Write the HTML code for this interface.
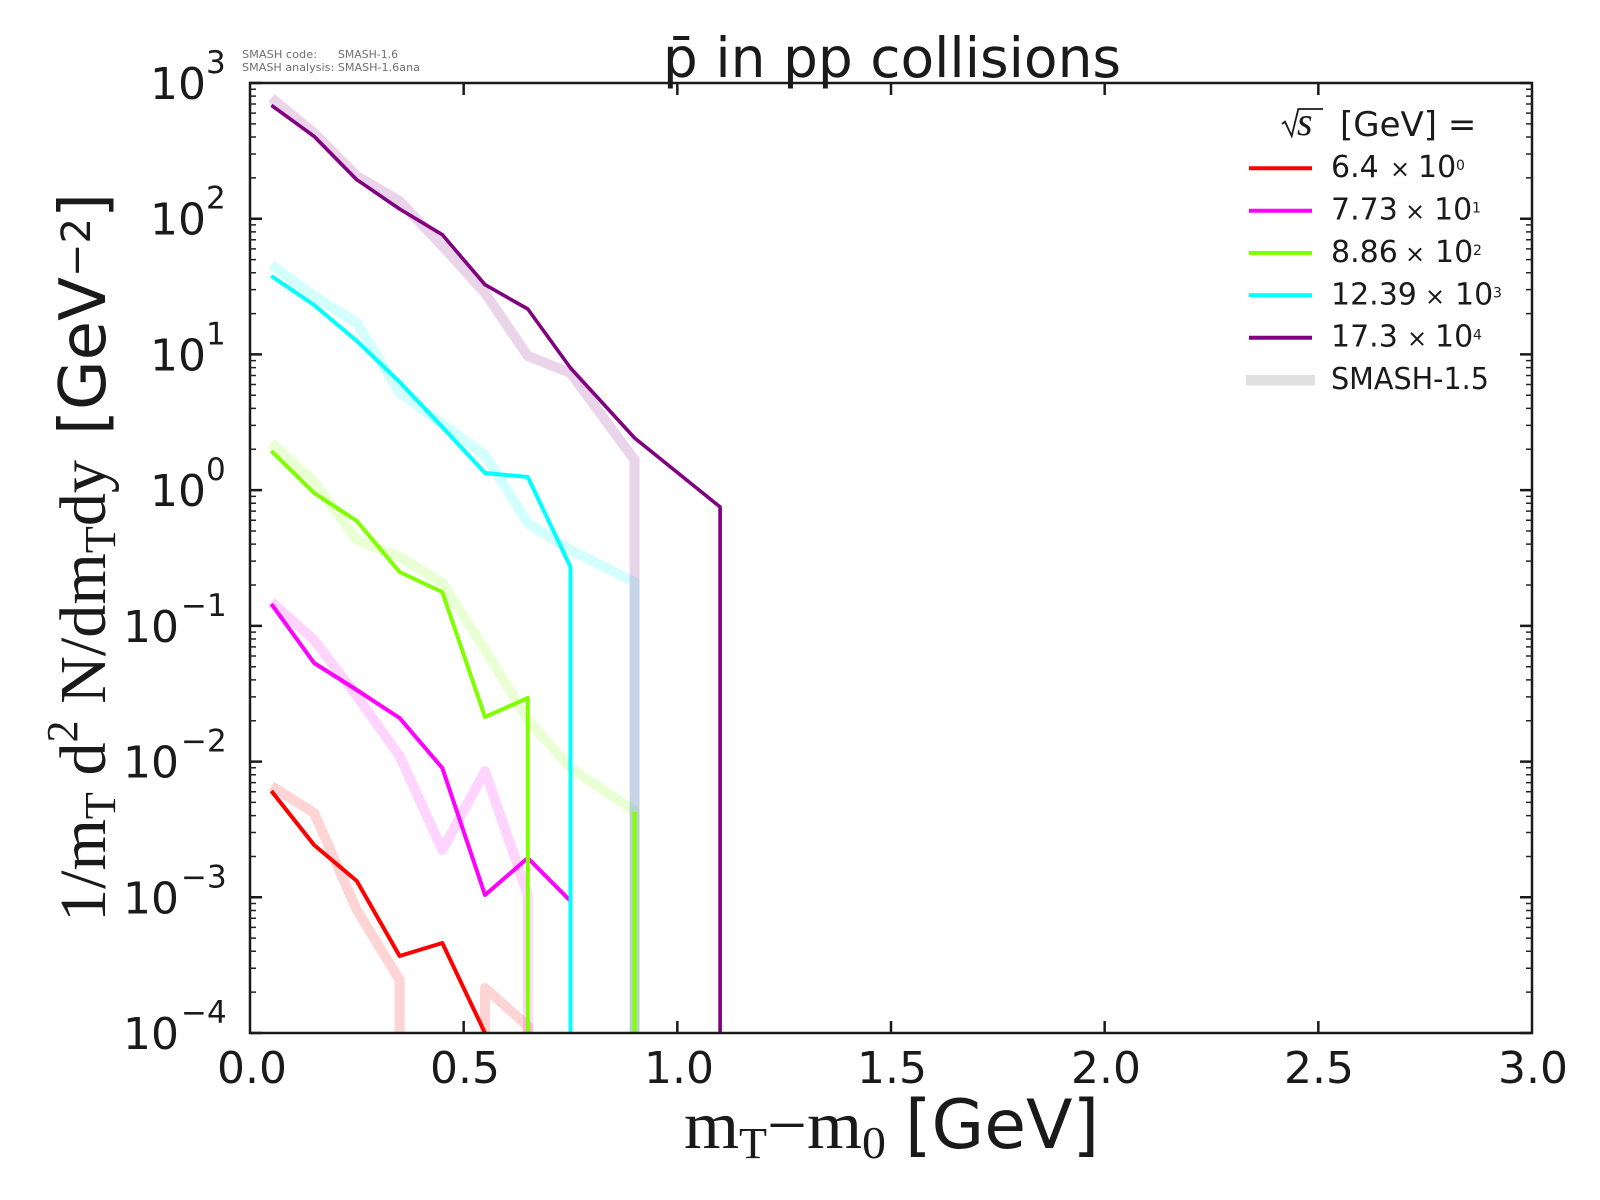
<!DOCTYPE html>
<html><head><meta charset="utf-8"><style>
html,body{margin:0;padding:0;background:#fff;}
svg{display:block;}
.s{font-family:"DejaVu Sans","Liberation Sans",sans-serif;fill:#1a1a1a;}
.r{font-family:"Liberation Serif","DejaVu Serif",serif;fill:#1a1a1a;}
</style></head><body>
<svg width="1600" height="1200" viewBox="0 0 1600 1200" xmlns="http://www.w3.org/2000/svg">
<defs>
<clipPath id="ax"><rect x="250" y="83" width="1282" height="950"/></clipPath>
<g id="minor" stroke="#222" stroke-width="1.5">
<path d="M250 992.15h6M250 968.25h6M250 951.29h6M250 938.14h6M250 927.4h6M250 918.31h6M250 910.44h6M250 903.5h6
M250 856.44h6M250 832.54h6M250 815.58h6M250 802.43h6M250 791.69h6M250 782.6h6M250 774.73h6M250 767.79h6
M250 720.72h6M250 696.82h6M250 679.86h6M250 666.71h6M250 655.97h6M250 646.88h6M250 639.01h6M250 632.07h6
M250 585.01h6M250 561.11h6M250 544.15h6M250 531h6M250 520.26h6M250 511.17h6M250 503.3h6M250 496.36h6
M250 449.29h6M250 425.39h6M250 408.43h6M250 395.28h6M250 384.54h6M250 375.45h6M250 367.58h6M250 360.64h6
M250 313.58h6M250 289.68h6M250 272.72h6M250 259.57h6M250 248.83h6M250 239.74h6M250 231.87h6M250 224.93h6
M250 177.86h6M250 153.96h6M250 137h6M250 123.85h6M250 113.11h6M250 104.02h6M250 96.15h6M250 89.21h6"/>
</g>
</defs>

<!-- small header text -->
<text class="s" x="242" y="58" font-size="11" style="fill:#6e6e6e" textLength="75" lengthAdjust="spacingAndGlyphs">SMASH code:</text>
<text class="s" x="338" y="58" font-size="11" style="fill:#6e6e6e" textLength="60" lengthAdjust="spacingAndGlyphs">SMASH-1.6</text>
<text class="s" x="242" y="71" font-size="11" style="fill:#6e6e6e" textLength="178" lengthAdjust="spacingAndGlyphs">SMASH analysis: SMASH-1.6ana</text>

<!-- title -->
<text class="s" x="892" y="77" font-size="55" text-anchor="middle">p̄ in pp collisions</text>

<!-- data -->
<g clip-path="url(#ax)" fill="none" stroke-linejoin="round" stroke-linecap="butt">
 <g stroke-width="10" stroke-opacity="0.17">
  <polyline stroke="#ff0000" points="271.4,786 314.1,813 356.8,910 399.6,980 399.6,1045"/>
  <polyline stroke="#ff0000" points="485,1045 485,988 527.8,1026 527.8,1045"/>
  <polyline stroke="#ff00ff" points="271.4,602 314.1,640 356.8,696 399.6,756 442.3,850 485,771 527.8,895 527.8,1045"/>
  <polyline stroke="#7fff00" points="271.4,443 314.1,482 356.8,540 399.6,557 442.3,583 485,650 527.8,720 570.5,768 634.6,811 634.6,1045"/>
  <polyline stroke="#00ffff" points="271.4,265 314.1,296 356.8,323 399.6,393 442.3,424 485,455 527.8,523 570.5,550 634.6,582 634.6,1045"/>
  <polyline stroke="#800080" points="271.4,98 314.1,133 356.8,176 399.6,201 442.3,246 485,293 527.8,356 570.5,373 634.6,460 634.6,1045"/>
 </g>
 <g stroke-width="4">
  <polyline stroke="#ff0000" points="271.4,791 314.1,845 356.8,881 399.6,956 442.3,943 485,1033 485,1045"/>
  <polyline stroke="#ff00ff" points="271.4,604 314.1,663 356.8,690 399.6,718 442.3,768 485,895 527.8,858 570.5,901 570.5,1045"/>
  <polyline stroke="#7fff00" points="271.4,451 314.1,493 356.8,521 399.6,572 442.3,592 485,717 527.8,698 527.8,1045"/>
  <polyline stroke="#7fff00" points="634.6,1045 634.6,812"/>
  <polyline stroke="#00ffff" points="271.4,276 314.1,305 356.8,341 399.6,382 442.3,427 485,473 527.8,477 570.5,567 570.5,1045"/>
  <polyline stroke="#800080" stroke-width="3.6" points="271.4,105.3 314.1,136.3 356.8,179.7 399.6,209 442.3,234.7 485,284.7 527.8,309 570.5,368 634.6,438 720.1,507 720.1,1045"/>
 </g>
</g>

<!-- axes frame -->
<rect x="250" y="83" width="1282" height="950" fill="none" stroke="#1a1a1a" stroke-width="2.5"/>

<use href="#minor"/>
<use href="#minor" transform="translate(1276,0)"/>

<g stroke="#1a1a1a" stroke-width="2.5">
 <path d="M250 83h12M250 218.71h12M250 354.43h12M250 490.14h12M250 625.86h12M250 761.57h12M250 897.29h12M250 1033h12"/>
 <path d="M1532 83h-12M1532 218.71h-12M1532 354.43h-12M1532 490.14h-12M1532 625.86h-12M1532 761.57h-12M1532 897.29h-12M1532 1033h-12"/>
 <path d="M463.67 1033v-12M677.33 1033v-12M891 1033v-12M1104.67 1033v-12M1318.33 1033v-12"/>
 <path d="M463.67 83v12M677.33 83v12M891 83v12M1104.67 83v12M1318.33 83v12"/>
</g>

<g class="s" font-size="44" text-anchor="middle">
 <text class="s" x="252" y="1083">0.0</text>
 <text class="s" x="465" y="1083">0.5</text>
 <text class="s" x="679" y="1083">1.0</text>
 <text class="s" x="892" y="1083">1.5</text>
 <text class="s" x="1106" y="1083">2.0</text>
 <text class="s" x="1319" y="1083">2.5</text>
 <text class="s" x="1533" y="1083">3.0</text>
</g>

<g font-size="44">
 <text class="s" x="150" y="99">10</text><text class="s" x="206" y="73" font-size="31">3</text>
 <text class="s" x="150" y="234.7">10</text><text class="s" x="206" y="208.7" font-size="31">2</text>
 <text class="s" x="150" y="370.4">10</text><text class="s" x="206" y="344.4" font-size="31">1</text>
 <text class="s" x="150" y="506.1">10</text><text class="s" x="206" y="480.1" font-size="31">0</text>
 <text class="s" x="123" y="641.9">10</text><text class="s" x="181" y="615.9" font-size="31">−1</text>
 <text class="s" x="123" y="777.6">10</text><text class="s" x="181" y="751.6" font-size="31">−2</text>
 <text class="s" x="123" y="913.3">10</text><text class="s" x="181" y="887.3" font-size="31">−3</text>
 <text class="s" x="123" y="1049">10</text><text class="s" x="181" y="1023" font-size="31">−4</text>
</g>

<text class="r" x="684" y="1148" font-size="68" textLength="202" lengthAdjust="spacingAndGlyphs">m<tspan font-size="44" dy="10">T</tspan><tspan dy="-10">−m</tspan><tspan font-size="46" dy="10">0</tspan></text>
<text class="s" x="905" y="1148" font-size="68">[GeV]</text>

<g transform="translate(105,922) rotate(-90)">
 <text class="r" x="0" y="0" font-size="66" textLength="462" lengthAdjust="spacingAndGlyphs">1/m<tspan font-size="44" dy="10">T</tspan><tspan dy="-10"> d</tspan><tspan font-size="44" dy="-28">2</tspan><tspan dy="28"> N/dm</tspan><tspan font-size="44" dy="10">T</tspan><tspan dy="-10">dy</tspan></text>
</g>
<g transform="translate(105,435) rotate(-90)">
 <text class="s" x="0" y="0" font-size="64" textLength="242" lengthAdjust="spacingAndGlyphs">[GeV<tspan font-size="40" dy="-15">−2</tspan><tspan dy="15">]</tspan></text>
</g>

<!-- legend -->
<path d="M1282 124 L1285 121.7 L1291.7 136 L1298.3 109 L1323 109" fill="none" stroke="#1a1a1a" stroke-width="1.8"/>
<text class="r" x="1297" y="135" font-size="40" font-style="italic">s</text>
<text class="s" x="1340" y="136" font-size="34">[GeV] =</text>

<g stroke-width="4">
 <line x1="1249" y1="168.3" x2="1312" y2="168.3" stroke="#ff0000"/>
 <line x1="1249" y1="210.7" x2="1312" y2="210.7" stroke="#ff00ff"/>
 <line x1="1249" y1="253" x2="1312" y2="253" stroke="#7fff00"/>
 <line x1="1249" y1="295.3" x2="1312" y2="295.3" stroke="#00ffff"/>
 <line x1="1249" y1="337.7" x2="1312" y2="337.7" stroke="#800080"/>
</g>
<line x1="1246" y1="380.3" x2="1315" y2="380.3" stroke="#e0e0e0" stroke-width="10.5"/>

<g font-size="30">
 <text class="s" x="1331" y="177">6.4</text><text class="s" x="1390" y="177" font-size="24">×</text><text class="s" x="1418" y="177">10</text><text class="s" x="1456" y="170" font-size="14">0</text>
 <text class="s" x="1331" y="219.7">7.73</text><text class="s" x="1405" y="219.7" font-size="24">×</text><text class="s" x="1434" y="219.7">10</text><text class="s" x="1472" y="212.7" font-size="14">1</text>
 <text class="s" x="1331" y="262">8.86</text><text class="s" x="1405" y="262" font-size="24">×</text><text class="s" x="1435" y="262">10</text><text class="s" x="1473" y="255" font-size="14">2</text>
 <text class="s" x="1331" y="304.3">12.39</text><text class="s" x="1425" y="304.3" font-size="24">×</text><text class="s" x="1455" y="304.3">10</text><text class="s" x="1493" y="297.3" font-size="14">3</text>
 <text class="s" x="1331" y="346.7">17.3</text><text class="s" x="1407" y="346.7" font-size="24">×</text><text class="s" x="1435" y="346.7">10</text><text class="s" x="1473" y="339.7" font-size="14">4</text>
 <text class="s" x="1331" y="389" textLength="158" lengthAdjust="spacingAndGlyphs">SMASH-1.5</text>
</g>
</svg>
</body></html>
